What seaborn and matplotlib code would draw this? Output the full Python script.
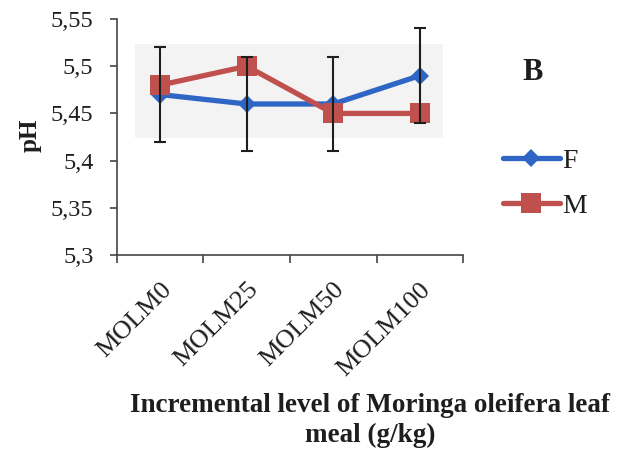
import matplotlib
matplotlib.use("Agg")
import matplotlib.pyplot as plt
import seaborn as sns
import pandas as pd
from matplotlib.patches import Rectangle

# pH by incremental level of Moringa oleifera leaf meal, by sex
levels = ["MOLM0", "MOLM25", "MOLM50", "MOLM100"]
ph_female = [5.47, 5.46, 5.46, 5.49]
ph_male = [5.48, 5.50, 5.45, 5.45]
err_female = [0.05, 0.05, 0.05, 0.05]
y_ticks = [5.30, 5.35, 5.40, 5.45, 5.50, 5.55]
y_tick_labels = ["5,3", "5,35", "5,4", "5,45", "5,5", "5,55"]

df = pd.DataFrame({
    "level": levels * 2,
    "pH": ph_female + ph_male,
    "sex": ["F"] * len(levels) + ["M"] * len(levels),
})

sns.set_theme(style="white")
plt.rcParams["font.family"] = ["Liberation Serif", "DejaVu Serif"]

blue = "#2f66c6"
red = "#c0504d"
ink = "#1e1e1e"

fig = plt.figure(figsize=(6.19, 4.53), dpi=100)
ax = fig.add_axes([0.189, 0.437, 0.559, 0.521])

# faint scanned background panel
ax.add_patch(Rectangle((0.052, 0.496), 0.89, 0.40, transform=ax.transAxes,
                       facecolor="#f3f3f3", edgecolor="none", zorder=0))

sns.lineplot(data=df, x="level", y="pH", hue="sex", style="sex",
             palette={"F": blue, "M": red}, markers={"F": "D", "M": "s"},
             dashes=False, linewidth=3.8, markeredgewidth=0,
             ax=ax, legend=False, sort=False, zorder=3)
lines = ax.get_lines()
lines[0].set_markersize(9.5)
lines[1].set_markersize(14.5)

xpos = list(range(len(levels)))
ax.errorbar(xpos, ph_female, yerr=err_female, fmt="none", ecolor=ink,
            elinewidth=1.5, capsize=4.3, capthick=1.5, zorder=5)

ax.set_xlim(-0.5, len(levels) - 0.5)
ax.set_ylim(5.3, 5.55)
ax.set_yticks(y_ticks)
ax.set_yticklabels(y_tick_labels, fontsize=17.5, color=ink)

# tick marks on category boundaries, labels at centres
ax.set_xticks([i - 0.5 for i in range(len(levels) + 1)])
ax.set_xticklabels([])
ax.set_xticks(xpos, minor=True)
ax.set_xticklabels(levels, minor=True, rotation=45, ha="right",
                   rotation_mode="anchor", fontsize=19, color=ink)
ax.tick_params(axis="x", which="major", direction="out", length=6,
               width=1.2, color="#444444", bottom=True)
ax.tick_params(axis="x", which="minor", length=0, pad=17, bottom=True)
ax.tick_params(axis="y", direction="out", length=5, width=1.2,
               color="#444444", left=True, pad=12)

for side in ["top", "right"]:
    ax.spines[side].set_visible(False)
for side in ["left", "bottom"]:
    ax.spines[side].set_color("#444444")
    ax.spines[side].set_linewidth(1.2)

ax.set_xlabel("")
ax.set_ylabel("")
fig.text(0.048, 0.702, "pH", rotation=90, ha="center", va="center",
         fontsize=18, fontweight="bold", color=ink)
fig.text(0.598, 0.071, "Incremental level of Moringa oleifera leaf\nmeal (g/kg)",
         ha="center", va="center", fontsize=19.5, fontweight="bold",
         color=ink, linespacing=1.27)
fig.text(0.860, 0.841, "B", ha="center", va="center", fontsize=22,
         fontweight="bold", color=ink)

leg = ax.legend(handles=lines[:2], labels=["F", "M"], loc="center left",
                bbox_to_anchor=(0.812, 0.594), bbox_transform=fig.transFigure,
                frameon=False, fontsize=20, handlelength=2.05,
                handletextpad=0.1, labelspacing=0.7, borderaxespad=0,
                borderpad=0)
for t in leg.get_texts():
    t.set_color(ink)

fig.savefig("out.png", dpi=100)
